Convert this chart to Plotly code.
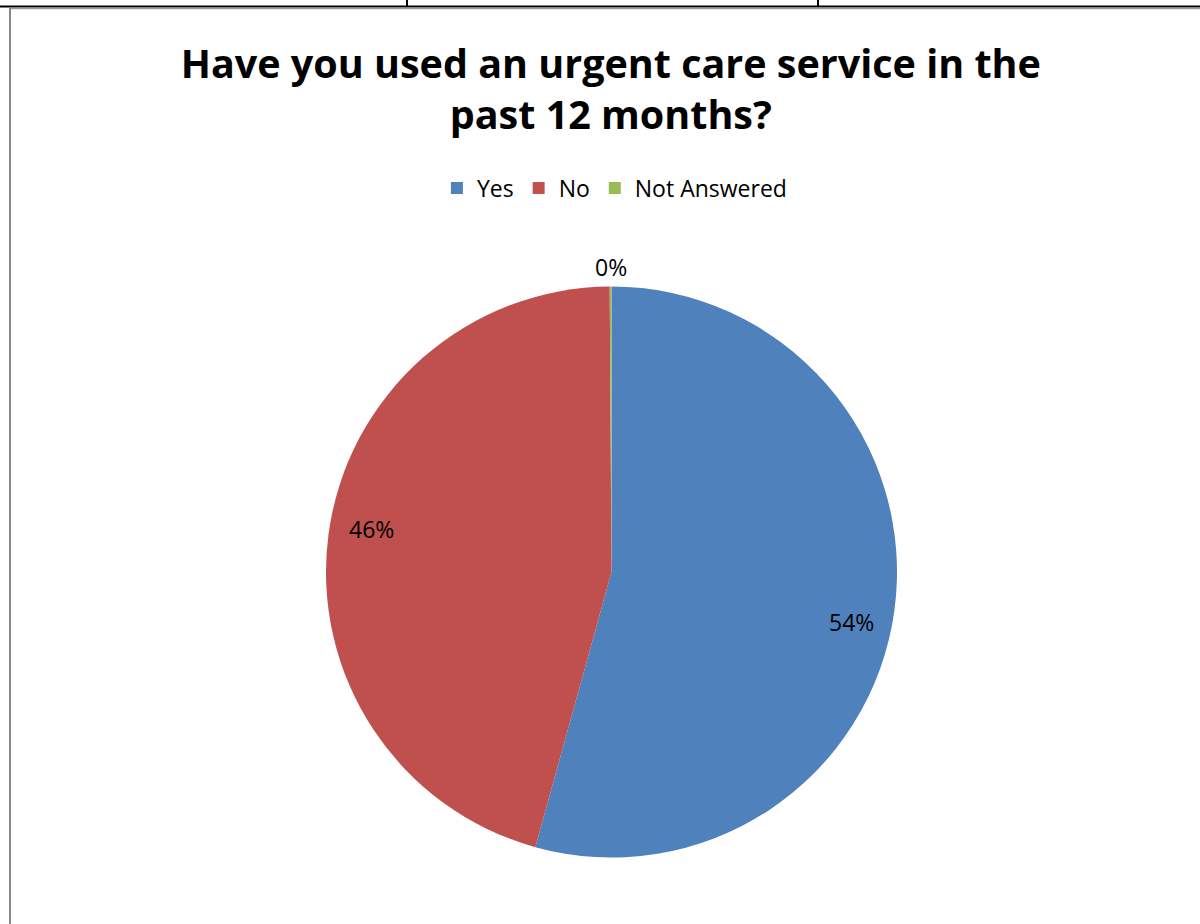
import math
import plotly.graph_objects as go

categories = ["Yes", "No", "Not Answered"]
values = [54.3, 45.6, 0.1]
label_text = ["54%", "46%", "0%"]
colors = ["#4F81BD", "#C0504D", "#9BBB59"]

title_text = "Have you used an urgent care service in the<br>past 12 months?"

W, H = 1200, 924
cx, cy, r = 611.5, 572.0, 285.5  # pie geometry in pixels

fig = go.Figure()
fig.add_trace(go.Pie(
    labels=categories,
    values=values,
    marker=dict(colors=colors, line=dict(width=0)),
    sort=False,
    direction="clockwise",
    rotation=0,
    textinfo="none",
    hoverinfo="label+percent",
    domain=dict(x=[(cx - r) / W, (cx + r) / W],
                y=[(H - cy - r) / H, (H - cy + r) / H]),
))

# data labels placed near slice mid-angles (best-fit style)
total = sum(values)
cum = 0.0
label_radius = [0.858, 0.855, 1.068]
label_angle_shift = [4.0, 2.6, 0.0]  # degrees
for v, t, f, da in zip(values, label_text, label_radius, label_angle_shift):
    mid = (cum + v / 2) / total * 2 * math.pi + math.radians(da)
    cum += v
    px = cx + r * f * math.sin(mid)
    py = cy - r * f * math.cos(mid)
    fig.add_annotation(x=px / W, y=(H - py) / H, xref="paper", yref="paper",
                       xanchor="center", yanchor="middle",
                       text=t, showarrow=False,
                       font=dict(family="Open Sans", size=23, color="#000000"))

# frame lines (table borders)
shapes = [
    dict(type="line", xref="paper", yref="paper", x0=0, x1=1, y0=1 - 6.5 / H, y1=1 - 6.5 / H,
         line=dict(color="#000000", width=2)),
    dict(type="line", xref="paper", yref="paper", x0=407 / W, x1=407 / W, y0=1, y1=1 - 7 / H,
         line=dict(color="#000000", width=2)),
    dict(type="line", xref="paper", yref="paper", x0=818 / W, x1=818 / W, y0=1, y1=1 - 7 / H,
         line=dict(color="#000000", width=2)),
    dict(type="line", xref="paper", yref="paper", x0=10 / W, x1=1, y0=1 - 8.5 / H, y1=1 - 8.5 / H,
         line=dict(color="#9a9a9a", width=1.5)),
    dict(type="line", xref="paper", yref="paper", x0=10 / W, x1=10 / W, y0=1 - 8 / H, y1=0,
         line=dict(color="#888888", width=2)),
]

fig.update_layout(
    width=W, height=H,
    margin=dict(l=0, r=0, t=0, b=0),
    paper_bgcolor="white",
    plot_bgcolor="white",
    shapes=shapes,
    title=dict(text="<b>" + title_text + "</b>", x=0.509, xanchor="center",
               y=1 - 78 / H, yanchor="middle",
               font=dict(family="Open Sans", size=39.5, color="#000000")),
    legend=dict(orientation="h", x=0.512, xanchor="center", y=1 - 188 / H, yanchor="middle",
                font=dict(family="Open Sans", size=23, color="#000000"),
                traceorder="normal"),
    showlegend=True,
)

fig.write_html("out.html", config={"displayModeBar": False},
               post_script="document.body.style.margin='0';")
